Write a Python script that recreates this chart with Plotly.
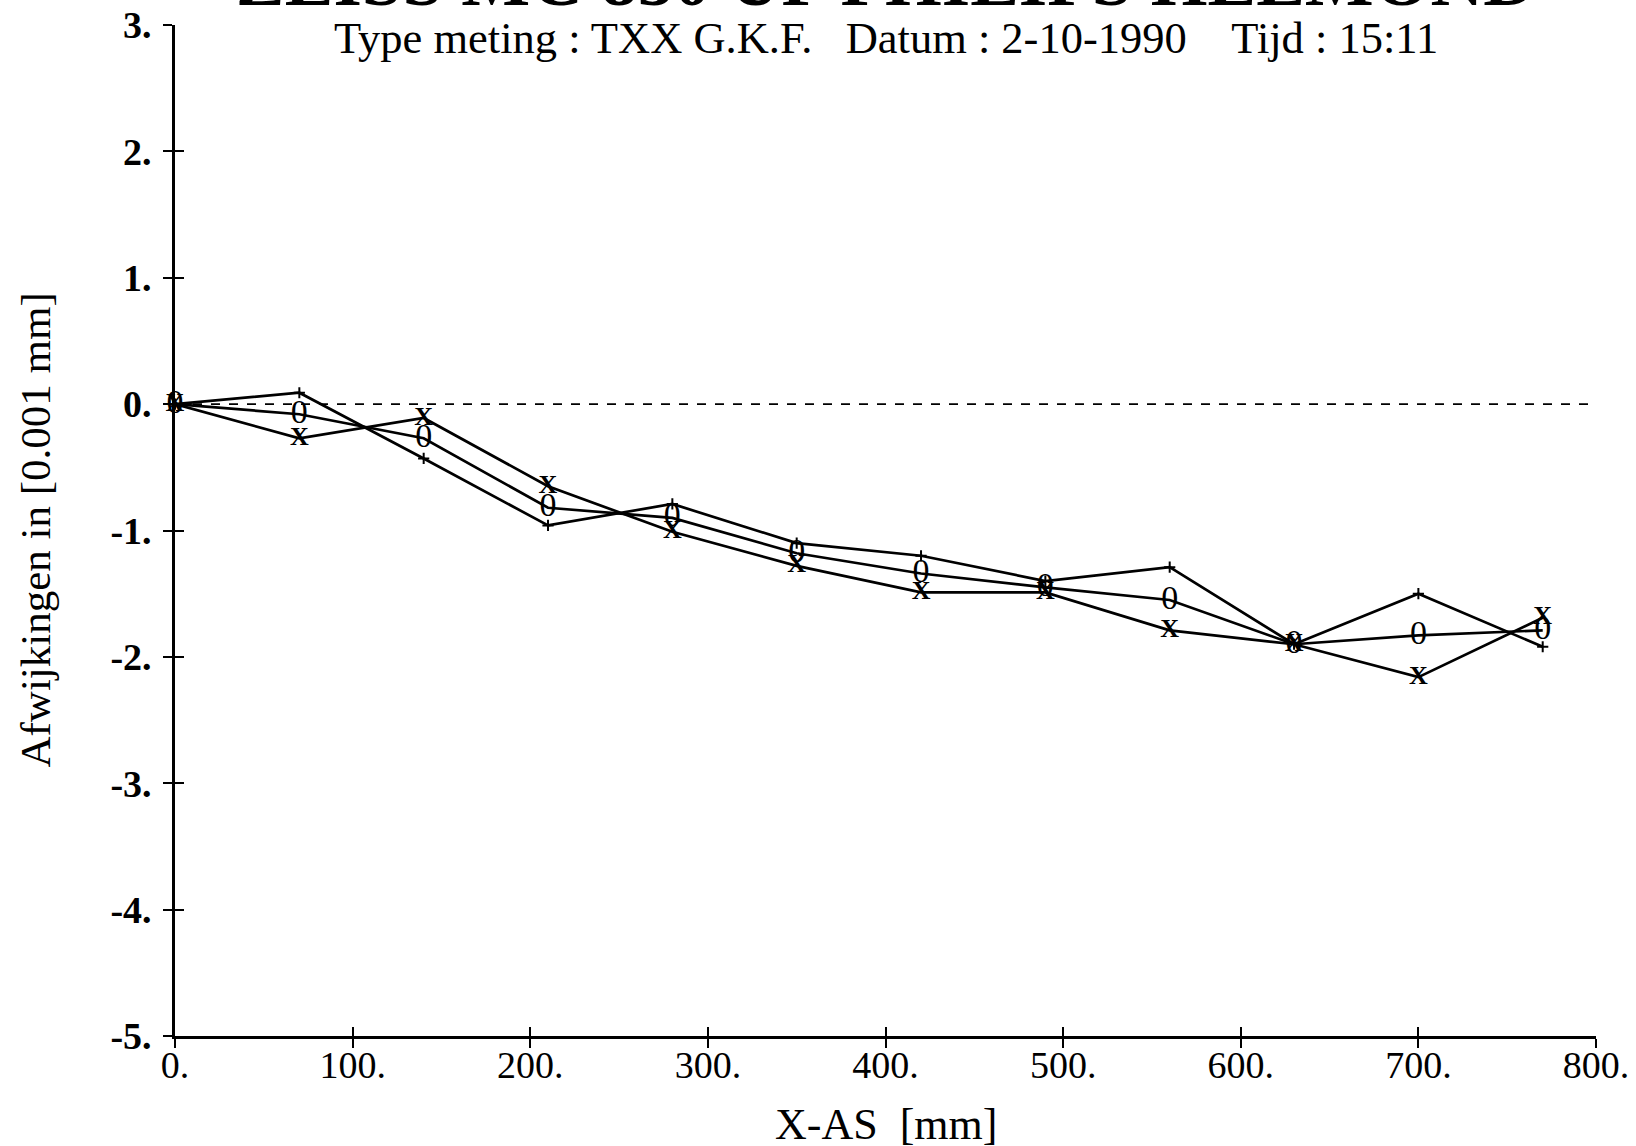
import plotly.graph_objects as go

x_mm = [0, 70, 140, 210, 280, 350, 420, 490, 560, 630, 700, 770]
serie_plus = [0.0, 0.09, -0.43, -0.96, -0.79, -1.10, -1.20, -1.40, -1.29, -1.90, -1.50, -1.92]
serie_o = [0.0, -0.08, -0.27, -0.82, -0.90, -1.18, -1.34, -1.45, -1.55, -1.90, -1.83, -1.79]
serie_x = [0.0, -0.27, -0.11, -0.65, -1.01, -1.28, -1.49, -1.49, -1.79, -1.90, -2.16, -1.69]

x_tickvals = [0, 100, 200, 300, 400, 500, 600, 700, 800]
x_ticktext = ["0.", "100.", "200.", "300.", "400.", "500.", "600.", "700.", "800."]
y_tickvals = [3, 2, 1, 0, -1, -2, -3, -4, -5]
y_ticktext = ["3.", "2.", "1.", "0.", "-1.", "-2.", "-3.", "-4.", "-5."]

title_text = "ZEISS MC 850 UP PHILIPS HELMOND"
subtitle_text = "Type meting : TXX G.K.F.\u00a0\u00a0\u00a0Datum : 2-10-1990\u00a0\u00a0\u00a0\u00a0Tijd : 15:11"
x_title = "X-AS\u00a0\u00a0[mm]"
y_title = "Afwijkingen in [0.001 mm]"

FONT = "Liberation Serif"
fig = go.Figure()

fig.add_trace(go.Scatter(
    x=x_mm, y=serie_plus, mode="lines+markers",
    line=dict(color="black", width=2.7),
    marker=dict(symbol="cross-thin-open", size=8, line=dict(color="black", width=2)),
    cliponaxis=False, showlegend=False))
fig.add_trace(go.Scatter(
    x=x_mm, y=serie_o, mode="lines+text", text=["0"] * len(x_mm),
    textposition="middle center",
    textfont=dict(family=FONT, size=34, color="black"),
    line=dict(color="black", width=2.7),
    cliponaxis=False, showlegend=False))
fig.add_trace(go.Scatter(
    x=x_mm, y=serie_x, mode="lines+text", text=["X"] * len(x_mm),
    textposition="middle center",
    textfont=dict(family=FONT, size=26, color="black", weight="bold"),
    line=dict(color="black", width=2.7),
    cliponaxis=False, showlegend=False))
# invisible trace for overlay axes (inside ticks)
fig.add_trace(go.Scatter(x=[0], y=[0], xaxis="x2", yaxis="y2", mode="markers",
                         marker=dict(opacity=0), showlegend=False, hoverinfo="skip"))

fig.add_hline(y=0, line=dict(color="black", width=1.6, dash="dash"))

fig.add_annotation(text=title_text, xref="paper", yref="paper", x=0.5, y=1.0445,
                   xanchor="center", yanchor="middle", showarrow=False,
                   font=dict(family=FONT, size=73, color="black", weight="bold"))
fig.add_annotation(text=subtitle_text, xref="paper", yref="paper", x=0.5, y=0.9875,
                   xanchor="center", yanchor="middle", showarrow=False,
                   font=dict(family=FONT, size=44.5, color="black"))
fig.add_annotation(text=x_title, xref="paper", yref="paper", x=0.5, y=-0.088,
                   xanchor="center", yanchor="middle", showarrow=False,
                   font=dict(family=FONT, size=44, color="black"))
fig.add_annotation(text=y_title, xref="paper", yref="paper", x=-0.0985, y=0.5,
                   xanchor="center", yanchor="middle", showarrow=False, textangle=-90,
                   font=dict(family=FONT, size=43, color="black"))

fig.update_layout(
    width=1636, height=1146,
    margin=dict(l=175, r=40, t=25, b=110),
    paper_bgcolor="white", plot_bgcolor="white",
    font=dict(family=FONT, color="black"),
    xaxis=dict(range=[0, 800], tickvals=x_tickvals, ticktext=x_ticktext, automargin=False,
               showgrid=False, zeroline=False, showline=True, linecolor="black", linewidth=2.7,
               ticks="outside", ticklen=9, tickwidth=2, tickcolor="black",
               tickfont=dict(family=FONT, size=38), ticklabelstandoff=-15,
               ticklabeloverflow="allow"),
    yaxis=dict(range=[-5, 3], tickvals=y_tickvals, ticktext=y_ticktext, automargin=False,
               showgrid=False, zeroline=False, showline=True, linecolor="black", linewidth=2.7,
               ticks="outside", ticklen=9, tickwidth=2, tickcolor="black",
               tickfont=dict(family=FONT, size=38, weight="bold"), ticklabelstandoff=4,
               ticklabeloverflow="allow"),
    xaxis2=dict(range=[0, 800], overlaying="x", tickvals=x_tickvals, showticklabels=False,
                showgrid=False, zeroline=False, ticks="inside", ticklen=9, tickwidth=2,
                tickcolor="black", side="bottom", automargin=False),
    yaxis2=dict(range=[-5, 3], overlaying="y", tickvals=y_tickvals, showticklabels=False,
                showgrid=False, zeroline=False, ticks="inside", ticklen=9, tickwidth=2,
                tickcolor="black", side="left", automargin=False),
)

fig.write_html("out.html", config={"displayModeBar": False},
               post_script="document.body.style.margin='0';")
